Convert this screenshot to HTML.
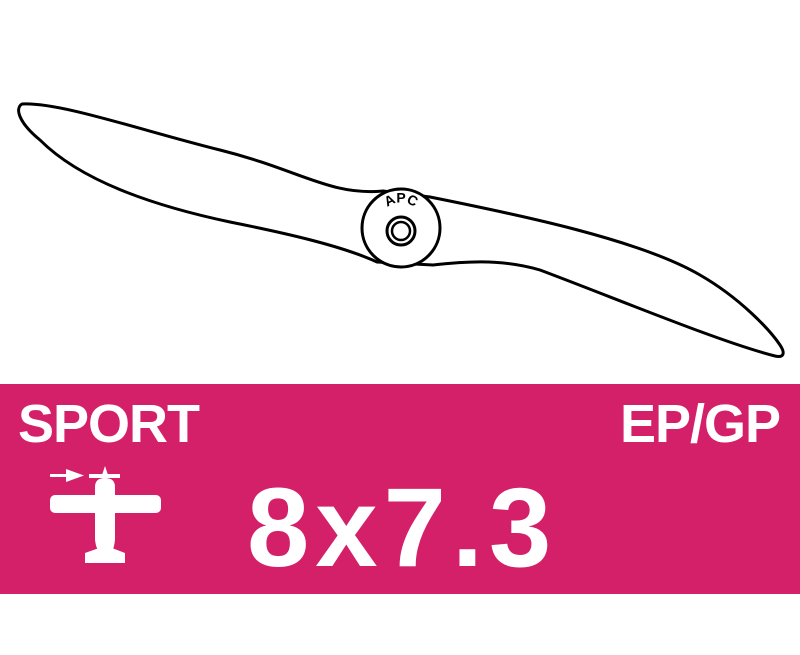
<!DOCTYPE html>
<html><head><meta charset="utf-8"><style>
html,body{margin:0;padding:0;background:#fff;width:800px;height:655px;overflow:hidden}
</style></head><body>
<svg width="800" height="655" viewBox="0 0 800 655" xmlns="http://www.w3.org/2000/svg">
<path d="M22,104 C60,102 140,130 220,150 S330,196 383,191
 L430,197 C520,215 640,240 700,275 C740,298 770,330 780,345 C786,354 783,358 775,356
 C720,342 620,300 540,270 C500,258 460,262 433,265
 L377,262 C340,245 280,232 230,222 C150,205 80,180 40,140 C18,122 15,108 22,104 Z"
 fill="#fff" stroke="#000" stroke-width="3" stroke-linejoin="round"/>
<circle cx="401" cy="228" r="39" fill="#fff" stroke="#000" stroke-width="3"/>
<circle cx="401" cy="231" r="14" fill="none" stroke="#000" stroke-width="3"/>
<circle cx="401" cy="231" r="9" fill="none" stroke="#000" stroke-width="2.5"/>
<path id="arc" d="M381,217 A21,21 0 0 1 421,217" fill="none"/>
<text font-family="Liberation Sans, sans-serif" font-size="14" font-weight="bold" fill="#000" text-anchor="middle"><textPath href="#arc" startOffset="50%">APC</textPath></text>
<rect x="0" y="384" width="800" height="210" fill="#d41f69"/>
<text x="18" y="442" font-family="Liberation Sans, sans-serif" font-weight="bold" font-size="54" fill="#fff" letter-spacing="-1">SPORT</text>
<text x="780" y="442" font-family="Liberation Sans, sans-serif" font-weight="bold" font-size="54" fill="#fff" text-anchor="end" letter-spacing="-1">EP/GP</text>
<text x="247" y="566" font-family="Liberation Sans, sans-serif" font-weight="bold" font-size="112" fill="#fff" letter-spacing="6">8x7.3</text>
<g fill="#fff">
<rect x="50" y="474" width="22" height="3"/>
<polygon points="66,469 84,475.5 66,482"/>
<rect x="89" y="474" width="31" height="4"/>
<polygon points="101,478 105,466 109,478"/>
<rect x="50" y="495" width="111" height="18" rx="5"/>
<path d="M95,487 Q95,478 105,478 Q115,478 115,487 L115,540 Q114,548 112,552 L99,552 Q96,548 95,540 Z"/>
<path d="M99,548 L112,548 L125,553 L125,563 L85,563 L85,553 Z"/>
</g>
</svg>
</body></html>
